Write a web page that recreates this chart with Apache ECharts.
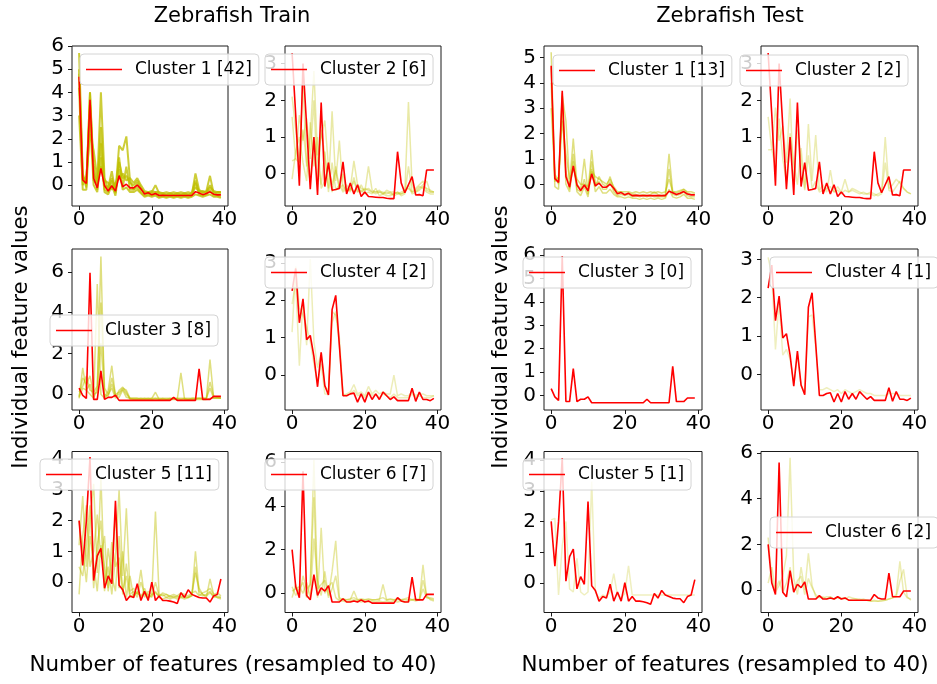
<!DOCTYPE html>
<html>
<head>
<meta charset="utf-8">
<title>Zebrafish clusters</title>
<script src="https://cdn.jsdelivr.net/npm/echarts@6/dist/echarts.min.js"></script>
<style>
  html, body { margin: 0; padding: 0; background: #fff; }
  #chart { width: 937px; height: 684px; }
</style>
</head>
<body>
<div id="chart"></div>
<script>
// ---- data ----
const X_TICKS = [0, 20, 40];

// cluster centroids (same for train and test)
const centroid1 = [
  4.67, 0.22, 0.07, 3.68, 0.30, -0.12, 0.72, -0.03, -0.25, -0.03,
  -0.26, 0.41, -0.07, 0.04, -0.12, -0.12, 0.00, -0.16, -0.38, -0.33,
  -0.42, -0.36, -0.45, -0.44, -0.45, -0.45, -0.45, -0.45, -0.45, -0.45,
  -0.45, -0.45, -0.28, -0.34, -0.41, -0.36, -0.29, -0.39, -0.42, -0.42];
const centroid2 = [
  3.29, 1.60, -0.33, 3.00, 1.30, -0.42, 1.00, -0.58, 1.94, -0.35,
  0.30, -0.45, -0.43, -0.40, 0.32, -0.55, -0.25, -0.55, -0.30, -0.62,
  -0.50, -0.62, -0.63, -0.64, -0.65, -0.65, -0.67, -0.68, -0.68, 0.60,
  -0.25, -0.52, -0.30, -0.08, -0.58, -0.57, -0.60, 0.10, 0.10, 0.10];
const centroid3 = [
  0.30, -0.05, -0.20, 5.95, -0.25, -0.25, 1.15, -0.25, -0.15, -0.15,
  -0.05, -0.30, -0.30, -0.30, -0.30, -0.30, -0.30, -0.30, -0.30, -0.30,
  -0.30, -0.30, -0.30, -0.30, -0.30, -0.30, -0.15, -0.30, -0.30, -0.30,
  -0.30, -0.30, -0.30, 1.25, -0.25, -0.25, -0.25, -0.10, -0.10, -0.10];
const centroid4 = [
  2.25, 2.85, 1.40, 2.04, 0.95, 1.06, 0.50, -0.31, 0.61, -0.28,
  -0.53, 1.75, 2.13, 0.80, -0.55, -0.55, -0.50, -0.48, -0.72, -0.50,
  -0.72, -0.45, -0.65, -0.50, -0.65, -0.45, -0.55, -0.65, -0.58, -0.68,
  -0.68, -0.68, -0.68, -0.35, -0.70, -0.45, -0.65, -0.65, -0.68, -0.62];
const centroid5 = [
  2.00, 0.54, 2.00, 4.07, 0.05, 0.85, 1.10, -0.20, 0.20, -0.05,
  2.65, -0.10, -0.25, -0.60, -0.45, -0.50, -0.05, -0.60, -0.30, -0.60,
  0.00, -0.60, -0.45, -0.60, -0.60, -0.62, -0.65, -0.70, -0.35, -0.50,
  -0.25, -0.40, -0.45, -0.50, -0.52, -0.52, -0.65, -0.45, -0.40, 0.10];
const centroid6 = [
  2.00, 0.30, -0.20, 5.59, -0.10, -0.30, 0.85, -0.10, 0.25, 0.10,
  0.35, -0.40, -0.40, -0.40, -0.25, -0.40, -0.40, -0.35, -0.40, -0.30,
  -0.40, -0.35, -0.45, -0.45, -0.45, -0.45, -0.45, -0.45, -0.45, -0.20,
  -0.35, -0.40, -0.40, 0.74, -0.30, -0.30, -0.30, -0.05, -0.05, -0.05];

// train members (a few representative traces per cluster)
const train1a = [
  5.7, 0.5, 0.0, 4.0, 0.5, 0.1, 4.0, 0.3, -0.2, 0.3,
  -0.2, 1.0, 0.3, 0.4, 0.1, 0.0, 0.2, -0.1, -0.35, -0.3,
  -0.35, -0.3, -0.4, -0.4, -0.4, -0.4, -0.4, -0.4, -0.4, -0.4,
  -0.4, -0.4, 0.5, -0.2, -0.3, -0.3, 0.0, -0.3, -0.35, -0.35];
const train1b = [
  5.0, 0.3, 0.2, 3.5, 0.9, -0.2, 2.5, 0.0, -0.1, 0.6,
  -0.3, 1.7, 1.5, 2.1, 0.2, -0.2, 0.1, -0.2, -0.3, -0.35,
  -0.3, 0.0, -0.35, -0.35, -0.4, -0.35, -0.4, -0.35, -0.4, -0.35,
  -0.4, -0.35, -0.1, -0.25, -0.35, -0.25, 0.4, -0.35, -0.3, -0.3];
const train1c = [
  4.2, -0.2, -0.2, 2.8, 0.0, -0.3, 1.2, -0.3, -0.4, 0.0,
  -0.45, 0.7, -0.2, -0.1, -0.3, -0.3, -0.2, -0.35, -0.5, -0.45,
  -0.5, -0.45, -0.55, -0.5, -0.55, -0.5, -0.55, -0.5, -0.55, -0.5,
  -0.55, -0.5, -0.4, -0.45, -0.5, -0.45, -0.4, -0.5, -0.5, -0.55];
const train1d = [
  3.0, 0.0, 0.4, 2.2, 1.5, 0.3, 0.8, 0.2, 0.1, -0.2,
  0.1, 0.3, 0.5, 0.2, 0.3, 0.1, 0.3, 0.0, -0.25, -0.3,
  -0.25, -0.3, -0.3, -0.35, -0.3, -0.35, -0.3, -0.35, -0.3, -0.35,
  -0.3, -0.35, 0.2, -0.3, -0.25, -0.3, -0.1, -0.25, -0.3, -0.3];
const train1e = [
  4.8, 0.4, -0.1, 4.0, 0.2, 0.0, 1.8, -0.2, -0.3, 0.2,
  -0.35, 1.2, -0.1, 0.8, -0.2, -0.2, -0.1, -0.3, -0.45, -0.4,
  -0.45, -0.4, -0.5, -0.45, -0.5, -0.45, -0.5, -0.45, -0.5, -0.45,
  -0.5, -0.45, 0.1, -0.4, -0.45, -0.4, -0.2, -0.45, -0.45, -0.5];

const train2a = [
  2.1, 1.2, 0.3, 2.5, 0.2, 1.0, 2.8, 0.5, 1.0, 1.45,
  0.2, -0.3, 0.1, -0.4, 0.0, -0.5, -0.4, 0.35, -0.3, -0.4,
  -0.45, -0.4, -0.5, -0.5, -0.5, -0.55, -0.5, -0.55, -0.55, -0.5,
  -0.55, -0.5, 1.95, -0.3, -0.5, -0.4, -0.3, -0.2, -0.5, -0.5];
const train2b = [
  1.55, 0.4, 1.6, 0.9, 1.5, 0.4, 2.0, -0.3, 1.2, 0.5,
  -0.4, 1.7, -0.2, 0.9, -0.45, -0.3, -0.5, -0.1, -0.5, -0.3,
  -0.5, 0.2, -0.45, -0.5, -0.45, -0.55, -0.45, -0.5, -0.5, -0.55,
  -0.5, -0.45, -0.4, -0.5, -0.45, -0.35, -0.4, -0.5, -0.55, -0.55];
const train2c = [
  0.35, 0.4, 0.3, 1.2, 0.3, -0.2, 1.0, 0.4, -0.3, 0.6,
  -0.5, 0.3, -0.45, -0.3, -0.5, -0.4, -0.45, -0.2, -0.5, -0.45,
  -0.55, -0.5, -0.55, -0.4, -0.6, -0.55, -0.6, -0.6, -0.55, -0.5,
  -0.6, -0.55, 0.2, -0.5, -0.4, -0.3, -0.2, -0.45, -0.5, -0.5];
const train2d = [
  -0.15, 0.6, 1.0, 0.3, -0.2, 1.4, 0.2, 1.0, -0.4, -0.2,
  0.3, -0.5, 0.2, -0.4, -0.3, -0.5, -0.4, -0.5, -0.35, -0.5,
  -0.4, -0.45, -0.5, -0.55, -0.5, -0.5, -0.55, -0.5, -0.6, -0.55,
  -0.55, -0.5, -0.3, -0.55, -0.5, -0.45, -0.35, -0.4, -0.45, -0.5];

const train3a = [
  -0.15, 0.3, 0.2, 0.5, -0.2, 0.3, 6.75, -0.2, 0.2, 1.4,
  -0.1, -0.15, 0.2, -0.15, -0.2, -0.2, -0.2, -0.2, -0.2, -0.2,
  -0.2, -0.2, -0.2, -0.2, -0.2, -0.2, -0.2, -0.2, -0.2, -0.2,
  -0.2, -0.2, -0.2, -0.2, -0.2, -0.2, 1.7, -0.15, -0.15, -0.15];
const train3b = [
  -0.2, 1.3, 0.2, 0.0, -0.2, 5.4, 0.0, -0.2, 0.0, 0.3,
  -0.2, 0.2, 0.35, 0.1, -0.25, -0.25, -0.25, -0.25, -0.25, -0.25,
  -0.25, -0.25, -0.25, -0.25, -0.25, -0.25, -0.25, -0.25, 1.05, -0.25,
  -0.25, -0.25, -0.25, -0.25, -0.25, -0.25, -0.2, -0.2, -0.2, -0.2];
const train3c = [
  0.1, 0.4, 0.9, 0.2, 0.1, 0.4, 4.5, 0.3, 0.0, 0.8,
  0.0, 0.1, 0.3, 0.2, -0.2, -0.2, -0.2, -0.25, -0.2, -0.25,
  -0.2, 0.1, -0.25, -0.2, -0.25, -0.2, -0.25, -0.2, -0.25, -0.2,
  -0.25, -0.2, -0.2, -0.2, -0.2, -0.2, 0.6, -0.1, -0.15, -0.2];
const train3d = [
  -0.1, 0.8, 0.5, 0.9, 0.0, 0.1, 2.5, 0.0, -0.1, 0.5,
  -0.1, 0.0, 0.25, 0.0, -0.2, -0.25, -0.25, -0.2, -0.25, -0.2,
  -0.25, -0.2, -0.25, -0.25, -0.25, -0.25, -0.2, -0.25, -0.25, -0.25,
  -0.25, -0.25, -0.25, -0.2, -0.25, -0.2, 0.3, -0.2, -0.2, -0.2];

const train4a = [
  1.9, 2.5, 0.25, 2.0, 0.8, 3.1, 0.9, 0.2, 0.6, -0.3,
  -0.4, 1.4, 1.7, 0.8, -0.55, -0.5, -0.45, -0.25, -0.5, -0.45,
  -0.55, -0.3, -0.5, -0.4, -0.5, -0.45, -0.5, -0.5, 0.0, -0.55,
  -0.5, -0.55, -0.55, -0.45, -0.55, -0.5, -0.5, -0.55, -0.55, -0.55];
const train4b = [
  1.15, 2.9, 1.8, 1.6, 1.3, 0.9, 0.3, -0.2, 0.3, -0.5,
  -0.5, 1.7, 1.6, 1.0, -0.5, -0.55, -0.5, -0.4, -0.55, -0.5,
  -0.6, -0.45, -0.55, -0.5, -0.6, -0.5, -0.55, -0.6, -0.5, -0.6,
  -0.6, -0.6, -0.6, -0.5, -0.6, -0.55, -0.6, -0.6, -0.6, -0.55];

const train5a = [
  1.2, 2.8, 0.5, 2.0, 3.2, 0.3, 3.4, 0.0, 0.5, -0.4,
  0.8, 3.0, 0.2, 2.4, -0.3, -0.2, -0.4, 0.4, -0.5, -0.3,
  -0.4, 2.3, -0.4, -0.45, -0.4, -0.5, -0.45, -0.5, -0.45, -0.5,
  -0.5, -0.45, 1.0, -0.3, -0.4, -0.45, -0.35, -0.45, -0.5, -0.5];
const train5b = [
  -0.4, 1.5, 2.5, 0.5, 1.0, 2.2, 0.8, 1.5, -0.3, 0.7,
  2.2, -0.2, 1.0, -0.5, 0.2, -0.5, -0.3, -0.5, -0.2, -0.5,
  -0.45, -0.3, -0.5, -0.55, -0.5, -0.55, -0.5, -0.55, -0.5, -0.55,
  -0.5, -0.4, 0.3, -0.2, -0.4, -0.5, 0.1, -0.4, -0.5, -0.55];
const train5c = [
  0.5, 0.2, 1.2, 2.5, -0.2, 1.2, 2.0, -0.3, 1.1, 0.2,
  -0.3, 1.5, -0.4, 0.6, -0.4, -0.3, -0.5, 0.0, -0.4, -0.4,
  -0.5, 0.0, -0.45, -0.4, -0.5, -0.45, -0.5, -0.45, -0.5, -0.45,
  -0.5, -0.45, 0.5, -0.4, -0.45, -0.4, -0.3, -0.5, -0.45, -0.5];
const train5d = [
  2.0, 1.0, 0.0, 1.5, 0.6, -0.3, 1.2, 0.5, -0.2, 1.3,
  0.5, 0.8, -0.3, 0.2, -0.5, -0.4, -0.35, -0.45, -0.35, -0.5,
  -0.4, -0.35, -0.45, -0.35, -0.4, -0.45, -0.4, -0.45, -0.35, -0.4,
  -0.45, -0.35, -0.3, -0.45, -0.35, -0.3, -0.2, -0.4, -0.35, -0.45];

const train6a = [
  0.3, -0.1, 0.2, 0.5, -0.2, 0.5, 6.1, 0.2, 0.4, 0.6,
  -0.1, 1.0, 2.4, -0.2, -0.3, -0.3, -0.3, 0.1, -0.3, -0.3,
  -0.3, -0.3, -0.3, -0.3, -0.3, 0.4, -0.3, -0.3, -0.3, -0.3,
  -0.3, -0.3, -0.3, -0.3, -0.3, -0.3, 1.3, -0.2, -0.2, -0.25];
const train6b = [
  -0.2, 0.4, -0.1, 0.8, 0.2, 0.4, 4.4, -0.2, 3.0, 0.0,
  0.3, 0.5, -0.2, -0.35, -0.35, -0.4, -0.35, -0.3, -0.35, -0.4,
  -0.35, -0.4, -0.35, -0.4, -0.35, -0.4, -0.35, -0.4, -0.35, -0.4,
  -0.35, -0.4, -0.35, -0.3, -0.35, -0.3, 0.6, -0.1, -0.3, -0.35];
const train6c = [
  0.1, 0.2, 0.3, 0.0, 0.5, -0.2, 2.5, 0.6, -0.1, 1.0,
  -0.2, 0.2, 0.8, -0.3, -0.25, -0.3, -0.25, -0.2, -0.3, -0.25,
  -0.3, -0.25, -0.3, -0.3, -0.25, -0.2, -0.3, -0.25, -0.3, -0.25,
  -0.3, -0.25, -0.2, -0.3, -0.25, -0.3, 0.2, -0.2, -0.25, -0.3];

// test members
const test1a = [
  5.2, 0.3, 0.0, 3.5, 2.5, 0.0, 1.8, 0.0, -0.2, 1.0,
  -0.3, 1.35, -0.1, 0.3, 0.0, -0.1, 0.3, -0.2, -0.35, -0.3,
  -0.4, -0.35, -0.4, -0.4, -0.45, -0.4, -0.45, -0.4, -0.3, -0.4,
  -0.45, -0.4, 1.2, -0.3, -0.35, -0.3, -0.2, -0.35, -0.4, -0.4];
const test1b = [
  4.0, 0.1, 0.3, 3.0, 0.5, -0.2, 1.2, -0.2, -0.3, 0.2,
  -0.4, 0.9, 0.0, 0.1, -0.2, -0.2, 0.1, -0.3, -0.45, -0.4,
  -0.45, -0.4, -0.5, -0.45, -0.5, -0.45, -0.5, -0.45, -0.5, -0.5,
  -0.5, -0.5, 0.6, -0.4, -0.45, -0.4, -0.3, -0.45, -0.5, -0.5];
const test1c = [
  3.0, 0.4, 0.1, 2.5, 1.2, 0.2, 0.6, 0.2, 0.0, 0.0,
  -0.1, 0.5, 0.3, 0.2, 0.1, 0.0, 0.2, -0.1, -0.3, -0.3,
  -0.3, -0.3, -0.35, -0.3, -0.35, -0.3, -0.35, -0.3, -0.35, -0.3,
  -0.35, -0.3, 0.2, -0.3, -0.3, -0.25, -0.2, -0.3, -0.3, -0.35];
const test1d = [
  4.6, -0.1, -0.2, 3.6, 0.0, -0.3, 0.9, -0.3, -0.45, -0.1,
  -0.5, 0.6, -0.3, -0.1, -0.35, -0.35, -0.2, -0.4, -0.5, -0.5,
  -0.55, -0.5, -0.55, -0.55, -0.6, -0.55, -0.6, -0.55, -0.6, -0.55,
  -0.6, -0.55, -0.2, -0.5, -0.55, -0.5, -0.4, -0.55, -0.55, -0.6];

const test2a = [
  1.55, 0.65, 1.8, 0.9, 1.3, 0.3, 2.05, -0.3, 1.2, 0.4,
  -0.45, 1.35, -0.2, 1.05, -0.45, -0.3, -0.5, 0.1, -0.5, -0.35,
  -0.5, -0.15, -0.5, -0.45, -0.5, -0.55, -0.5, -0.55, -0.55, -0.6,
  -0.55, -0.5, 1.0, -0.4, -0.3, -0.15, -0.25, -0.4, -0.5, -0.55];
const test2b = [
  0.65, 0.65, 0.2, 1.5, 0.4, -0.2, 1.1, 0.3, -0.3, 0.7,
  -0.4, 0.5, -0.4, -0.2, -0.5, -0.45, -0.4, -0.35, -0.5, -0.45,
  -0.55, -0.45, -0.5, -0.4, -0.45, -0.5, -0.55, -0.55, -0.5, -0.55,
  -0.6, -0.55, 0.3, -0.45, -0.5, -0.35, -0.2, -0.4, -0.5, -0.55];

const test4a = [
  3.05, 2.6, 0.65, 1.9, 0.5, 0.65, 0.4, -0.2, 0.5, -0.3,
  -0.45, 1.5, 1.55, 0.7, -0.4, -0.4, -0.35, -0.4, -0.45, -0.4,
  -0.5, -0.4, -0.45, -0.5, -0.45, -0.4, -0.45, -0.5, -0.5, -0.55,
  -0.55, -0.55, -0.55, -0.5, -0.5, -0.5, -0.55, -0.55, -0.55, -0.55];

const test5a = [
  2.05, 2.1, -0.4, 1.2, 2.0, -0.2, -0.3, 0.8, -0.3, -0.4,
  -0.3, 3.3, -0.3, -0.5, -0.4, -0.45, -0.3, 0.3, -0.4, -0.5,
  -0.35, 0.55, -0.4, -0.4, -0.4, -0.4, -0.4, -0.4, -0.4, -0.4,
  -0.4, -0.4, -0.4, -0.4, -0.4, -0.4, -0.4, -0.4, -0.4, -0.4];

const test6a = [
  2.3, 0.5, -0.1, 0.2, 0.6, 1.5, 5.8, 0.5, -0.2, 1.0,
  0.0, 1.6, 0.2, -0.3, -0.3, -0.35, -0.3, -0.3, -0.4, -0.3,
  -0.35, -0.4, -0.3, -0.35, -0.4, -0.4, -0.45, -0.45, -0.5, -0.5,
  -0.5, -0.45, -0.45, -0.4, -0.35, -0.2, 1.25, -0.1, -0.35, -0.4];
const test6b = [
  0.3, 1.0, 0.0, 0.4, -0.1, 0.3, 1.0, -0.1, 0.4, 0.6,
  -0.2, 0.5, 0.1, -0.2, -0.35, -0.3, -0.4, -0.3, -0.4, -0.35,
  -0.4, -0.35, -0.45, -0.4, -0.4, -0.45, -0.4, -0.45, -0.5, -0.45,
  -0.5, -0.5, -0.45, -0.4, -0.35, -0.3, 0.4, 0.9, -0.3, -0.45];

// ---- layout ----
const FONT = 'DejaVu Sans';
const COL_LEFT = [[72, 285], [544, 761]];   // [train, test]
const COL_WIDTH = [[156, 156], [158, 157]];
const ROW_TOP = [46, 249, 451.5];
const ROW_HEIGHT = [160, 161, 161];

// side: 0 train / 1 test
const panels = [
  { side: 0, row: 0, col: 0, name: 'Cluster 1 [42]', line: centroid1, members: [train1a, train1b, train1c, train1d, train1e], alpha: 0.78, width: 2, y: [-0.9, 6.0], yTicks: [0, 1, 2, 3, 4, 5, 6], legend: [80, 54] },
  { side: 0, row: 0, col: 1, name: 'Cluster 2 [6]', line: centroid2, members: [train2a, train2b, train2c, train2d], alpha: 0.35, y: [-0.88, 3.48], yTicks: [0, 1, 2, 3], legend: [265, 54] },
  { side: 0, row: 1, col: 0, name: 'Cluster 3 [8]', line: centroid3, members: [train3a, train3b, train3c, train3d], alpha: 0.5, y: [-0.77, 7.12], yTicks: [0, 2, 4, 6], legend: [50, 315] },
  { side: 0, row: 1, col: 1, name: 'Cluster 4 [2]', line: centroid4, members: [train4a, train4b], alpha: 0.28, y: [-0.93, 3.37], yTicks: [0, 1, 2, 3], legend: [265, 257] },
  { side: 0, row: 2, col: 0, name: 'Cluster 5 [11]', line: centroid5, members: [train5a, train5b, train5c, train5d], alpha: 0.45, y: [-0.99, 4.25], yTicks: [0, 1, 2, 3, 4], legend: [40, 459] },
  { side: 0, row: 2, col: 1, name: 'Cluster 6 [7]', line: centroid6, members: [train6a, train6b, train6c], alpha: 0.38, y: [-0.88, 6.49], yTicks: [0, 2, 4, 6], legend: [265, 459] },
  { side: 1, row: 0, col: 0, name: 'Cluster 1 [13]', line: centroid1, members: [test1a, test1b, test1c, test1d], alpha: 0.5, y: [-0.86, 5.45], yTicks: [0, 1, 2, 3, 4, 5], legend: [553, 55] },
  { side: 1, row: 0, col: 1, name: 'Cluster 2 [2]', line: centroid2, members: [test2a, test2b], alpha: 0.3, y: [-0.88, 3.48], yTicks: [0, 1, 2, 3], legend: [740, 55] },
  { side: 1, row: 1, col: 0, name: 'Cluster 3 [0]', line: centroid3, members: [], alpha: 0.25, y: [-0.61, 6.25], yTicks: [0, 1, 2, 3, 4, 5, 6], legend: [523, 257] },
  { side: 1, row: 1, col: 1, name: 'Cluster 4 [1]', line: centroid4, members: [test4a], alpha: 0.25, y: [-0.93, 3.27], yTicks: [0, 1, 2, 3], legend: [770, 257] },
  { side: 1, row: 2, col: 0, name: 'Cluster 5 [1]', line: centroid5, members: [test5a], alpha: 0.25, y: [-0.97, 4.28], yTicks: [0, 1, 2, 3, 4], legend: [523, 459] },
  { side: 1, row: 2, col: 1, name: 'Cluster 6 [2]', line: centroid6, members: [test6a, test6b], alpha: 0.3, y: [-0.99, 6.07], yTicks: [0, 2, 4, 6], legend: [770, 517] }
];

function toPoints(arr) {
  return arr.map((v, i) => [i, v]);
}

const grid = [], xAxis = [], yAxis = [], series = [], legend = [];

panels.forEach((p, i) => {
  grid.push({
    left: COL_LEFT[p.side][p.col], top: ROW_TOP[p.row],
    width: COL_WIDTH[p.side][p.col], height: ROW_HEIGHT[p.row],
    show: true, borderColor: '#1a1a1a', borderWidth: 1,
    containLabel: false, outerBoundsMode: 'none'
  });
  xAxis.push({
    gridIndex: i, type: 'value', position: 'bottom', min: -1.95, max: 40.95,
    axisLine: { show: false, onZero: false },
    splitLine: { show: false },
    axisTick: { show: true, inside: false, customValues: X_TICKS, length: 4, lineStyle: { color: '#1a1a1a' } },
    axisLabel: { customValues: X_TICKS, margin: 4, color: '#000', fontFamily: FONT, fontSize: 20 }
  });
  yAxis.push({
    gridIndex: i, type: 'value', position: 'left', min: p.y[0], max: p.y[1],
    axisLine: { show: false, onZero: false },
    splitLine: { show: false },
    axisTick: { show: true, inside: false, customValues: p.yTicks, length: 4, lineStyle: { color: '#1a1a1a' } },
    axisLabel: { customValues: p.yTicks, margin: 8, color: '#000', fontFamily: FONT, fontSize: 20 }
  });
  // faint member traces
  p.members.forEach(m => {
    series.push({
      type: 'line', xAxisIndex: i, yAxisIndex: i, data: toPoints(m),
      symbol: 'none', silent: true, z: 1,
      lineStyle: { color: 'rgba(191,191,0,' + p.alpha + ')', width: p.width || 1.5 }
    });
  });
  // centroid
  series.push({
    name: p.name, type: 'line', xAxisIndex: i, yAxisIndex: i, data: toPoints(p.line),
    symbol: 'none', silent: true, z: 3,
    lineStyle: { color: '#ff0000', width: 1.6 },
    itemStyle: { color: '#ff0000' }
  });
  legend.push({
    data: [p.name], left: p.legend[0], top: p.legend[1],
    selectedMode: false, icon: 'rect', itemWidth: 36, itemHeight: 1.5,
    padding: [7, 7, 7, 6],
    backgroundColor: 'rgba(255,255,255,0.8)', borderColor: '#d4d4d4', borderWidth: 1, borderRadius: 4,
    textStyle: { color: '#000', fontFamily: FONT, fontSize: 17, padding: [0, 0, 0, 8] }
  });
});

function label(text, x, y, size, rot) {
  return {
    type: 'text', x: x, y: y, rotation: rot || 0,
    style: {
      text: text, fill: '#000', font: size + 'px "' + FONT + '"',
      align: 'center', verticalAlign: 'middle', textAlign: 'center', textVerticalAlign: 'middle'
    }
  };
}

const chart = echarts.init(document.getElementById('chart'), null, { renderer: 'canvas' });
chart.setOption({
  animation: false,
  backgroundColor: '#fff',
  grid: grid,
  xAxis: xAxis,
  yAxis: yAxis,
  legend: legend,
  series: series,
  graphic: [
    label('Zebrafish Train', 232, 17, 21),
    label('Zebrafish Test', 730, 17, 21),
    label('Individual feature values', 21, 337, 21.3, Math.PI / 2),
    label('Individual feature values', 501, 337, 21.3, Math.PI / 2),
    label('Number of features (resampled to 40)', 233, 665, 21.4),
    label('Number of features (resampled to 40)', 725, 665, 21.4)
  ]
});
</script>
</body>
</html>
